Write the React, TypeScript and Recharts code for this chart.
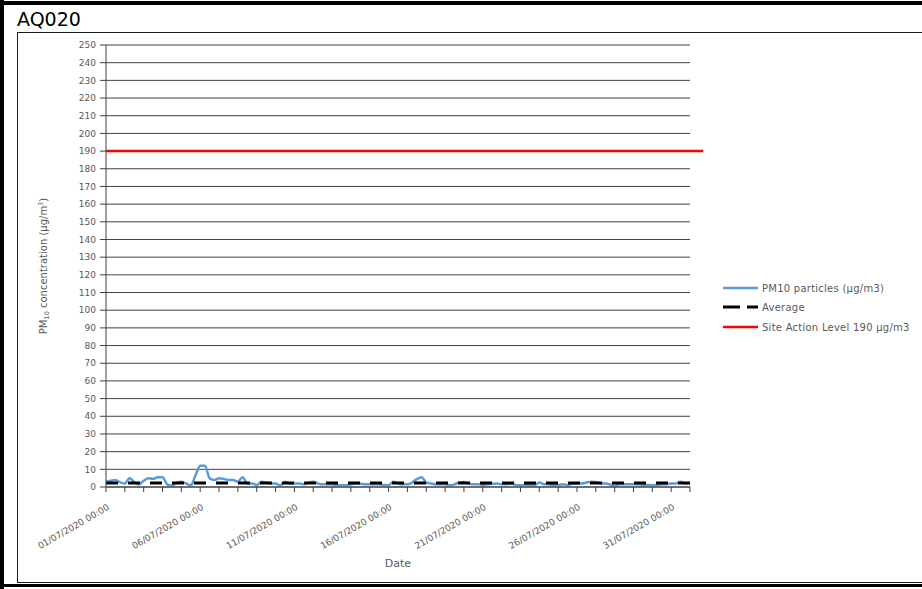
import React from "react";
import {
  CartesianGrid,
  Line,
  LineChart,
  ReferenceLine,
  XAxis,
  YAxis,
} from "recharts";

// PM10 readings, one every 6 hours from 01/07/2020 00:00 (µg/m3)
const pm10 = [
  3, 3.5, 4, 2.6, 2, 4.9, 2.8, 1.5, 3.5, 5, 4.6, 5.5, 5.5, 1.5, 0.8, 2.5,
  3, 2, 1, 6.5, 12, 12, 5, 4, 5, 4.6, 4, 4, 3, 5.5, 2, 2,
  1.2, 3, 2.5, 2, 2, 0.8, 3, 2, 2, 2, 1.5, 2.5, 3, 2, 1.5, 1.5,
  1.5, 1.2, 1, 1, 1.5, 2, 1.8, 1.5, 1.5, 1.5, 1.5, 1.2, 1, 3, 2, 1.5,
  1.5, 2.5, 4.5, 5.5, 2.5, 2, 1.5, 1.5, 1.5, 1, 1.5, 2.5, 2.8, 2, 1.5, 1.5,
  1.2, 1.5, 1.8, 2, 1.5, 1.5, 1.8, 1.2, 1, 1, 1.2, 1, 2.5, 1.5, 1.5, 1,
  1.2, 1.5, 1.2, 1.8, 2, 2, 2.5, 3, 2.8, 2, 2, 1.5, 0.5, 1.5, 1.5, 1.5,
  1.5, 1.5, 1.2, 1.2, 1, 1.2, 1.5, 1.5, 2, 2, 3, 2, 2.2,
];
const samplesPerDay = 4;
const average = 2.3;
const siteActionLevel = 190;

const yTicks = [
  0, 10, 20, 30, 40, 50, 60, 70, 80, 90, 100, 110, 120, 130, 140, 150, 160,
  170, 180, 190, 200, 210, 220, 230, 240, 250,
];
const dayTicks = [
  0, 1, 2, 3, 4, 5, 6, 7, 8, 9, 10, 11, 12, 13, 14, 15, 16, 17, 18, 19, 20,
  21, 22, 23, 24, 25, 26, 27, 28, 29, 30, 31,
];
const labelDays = [0, 5, 10, 15, 20, 25, 30];
const dateLabels = [
  "01/07/2020 00:00",
  "06/07/2020 00:00",
  "11/07/2020 00:00",
  "16/07/2020 00:00",
  "21/07/2020 00:00",
  "26/07/2020 00:00",
  "31/07/2020 00:00",
];

const data = pm10.map((v, i) => ({ day: i / samplesPerDay, pm10: v }));

const FONT = "'DejaVu Sans', sans-serif";
const GREY = "#595959";
const AXIS = "#404040";
const BLUE = "#5B9BD5";

function DateTick({ x, y, payload }: any) {
  const idx = labelDays.indexOf(payload.value);
  if (idx < 0) return null;
  return (
    <text
      transform={`translate(${x + 4},${y + 15}) rotate(-30)`}
      textAnchor="end"
      fill={GREY}
      fontSize={9}
      fontFamily={FONT}
    >
      {dateLabels[idx]}
    </text>
  );
}

export default function App() {
  return (
    <div
      style={{
        position: "absolute",
        left: 0,
        top: 0,
        width: 922,
        height: 589,
        background: "#fff",
        overflow: "hidden",
        fontFamily: FONT,
      }}
    >
      {/* outer frame */}
      <div style={{ position: "absolute", left: 0, top: 0, width: 4, height: 589, background: "#000" }} />
      <div style={{ position: "absolute", left: 0, top: 1, width: 922, height: 4, background: "#000" }} />
      <div style={{ position: "absolute", left: 0, top: 584, width: 922, height: 3, background: "#000" }} />
      {/* inner chart box */}
      <div
        style={{
          position: "absolute",
          left: 17,
          top: 32,
          width: 920,
          height: 549,
          border: "1px solid #1a1a1a",
        }}
      />
      <div
        style={{
          position: "absolute",
          left: 17,
          top: 8,
          fontSize: 19,
          lineHeight: "22px",
          color: "#000",
        }}
      >
        AQ020
      </div>

      <div style={{ position: "absolute", left: 0, top: 0 }}>
        <LineChart
          width={922}
          height={589}
          data={data}
          margin={{ top: 45, right: 232, left: 46, bottom: 42 }}
        >
          <CartesianGrid
            vertical={false}
            stroke={AXIS}
            strokeWidth={1}
          />
          <XAxis
            dataKey="day"
            type="number"
            domain={[0, 31]}
            ticks={dayTicks}
            interval={0}
            height={60}
            tickSize={5}
            stroke={AXIS}
            tick={<DateTick />}
          />
          <YAxis
            type="number"
            domain={[0, 250]}
            ticks={yTicks}
            interval={0}
            width={60}
            tickSize={6}
            tickMargin={4}
            stroke={AXIS}
            tick={{ fill: GREY, fontSize: 9, fontFamily: FONT }}
          />
          <Line
            type="monotone"
            dataKey="pm10"
            stroke={BLUE}
            strokeWidth={2.5}
            dot={false}
            isAnimationActive={false}
          />
          <ReferenceLine
            y={average}
            stroke="#000"
            strokeWidth={3}
            strokeDasharray="12 10"
          />
          <ReferenceLine
            segment={[
              { x: 0, y: siteActionLevel },
              { x: 31.7, y: siteActionLevel },
            ]}
            ifOverflow="visible"
            stroke="#FF0000"
            strokeWidth={2.5}
          />
        </LineChart>
      </div>

      {/* axis titles and legend */}
      <svg
        width={922}
        height={589}
        style={{ position: "absolute", left: 0, top: 0, pointerEvents: "none" }}
      >
        <text
          transform="translate(47,266) rotate(-90)"
          textAnchor="middle"
          fill={GREY}
          fontSize={10}
          fontFamily={FONT}
        >
          PM
          <tspan fontSize={6.5} dy={2}>10</tspan>
          <tspan dy={-2}> concentration (µg/m</tspan>
          <tspan fontSize={6.5} dy={-4}>3</tspan>
          <tspan dy={4}>)</tspan>
        </text>
        <text
          x={398}
          y={567}
          textAnchor="middle"
          fill={GREY}
          fontSize={11}
          fontFamily={FONT}
        >
          Date
        </text>

        <line x1={723} x2={758} y1={288} y2={288} stroke={BLUE} strokeWidth={2.5} />
        <text x={762} y={291.5} fill={GREY} fontSize={10} letterSpacing={0.25} fontFamily={FONT}>
          PM10 particles (µg/m3)
        </text>
        <line
          x1={723}
          x2={758}
          y1={307}
          y2={307}
          stroke="#000"
          strokeWidth={3}
          strokeDasharray="17 7"
        />
        <text x={762} y={310.5} fill={GREY} fontSize={10} letterSpacing={0.25} fontFamily={FONT}>
          Average
        </text>
        <line x1={723} x2={758} y1={327} y2={327} stroke="#FF0000" strokeWidth={2.5} />
        <text x={762} y={330.5} fill={GREY} fontSize={10} letterSpacing={0.25} fontFamily={FONT}>
          Site Action Level 190 µg/m3
        </text>
      </svg>
    </div>
  );
}
